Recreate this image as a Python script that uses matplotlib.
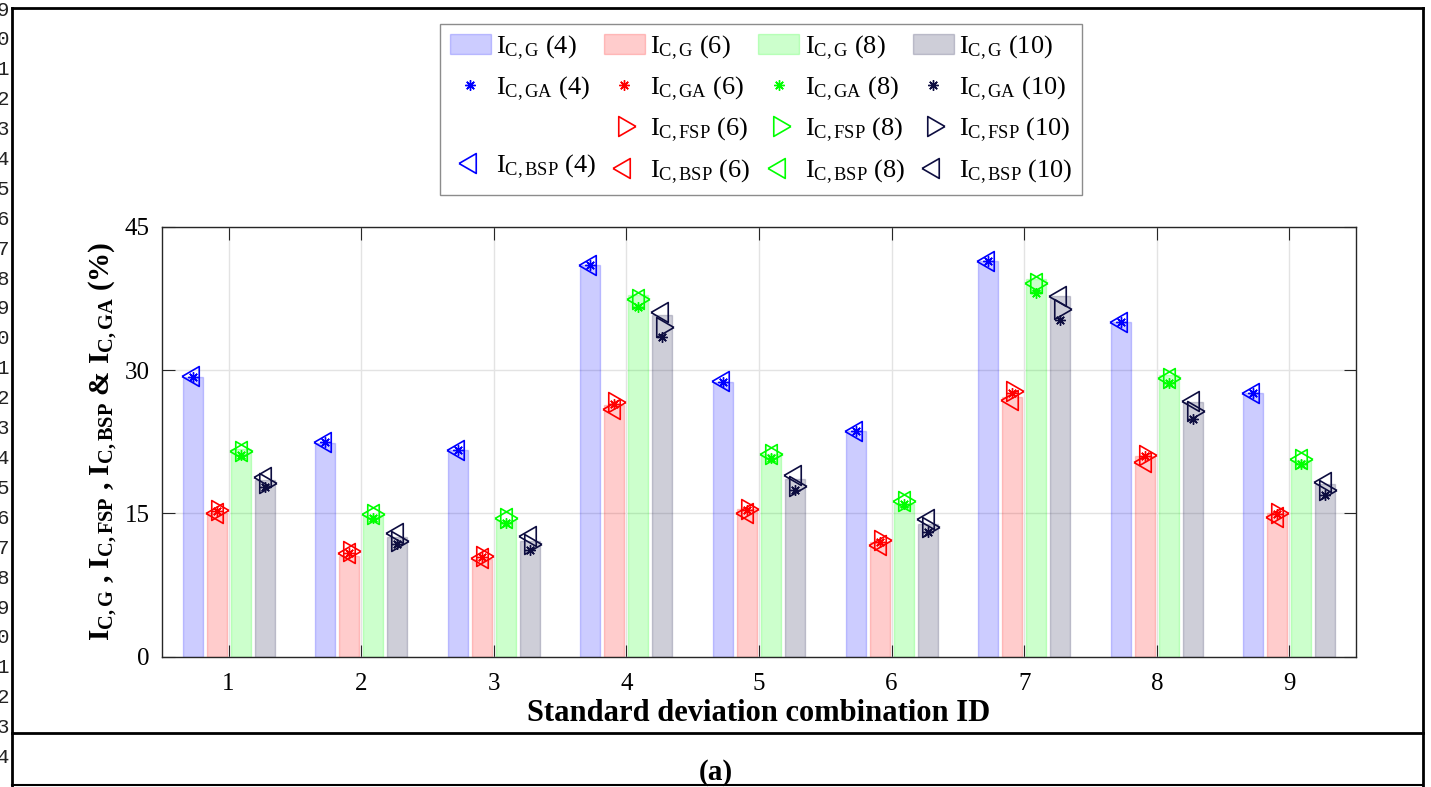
import numpy as np
import matplotlib
matplotlib.use("Agg")
import matplotlib.pyplot as plt
from matplotlib.lines import Line2D

plt.rcParams['font.family'] = ['Liberation Serif', 'DejaVu Serif']
plt.rcParams['mathtext.fontset'] = 'custom'
plt.rcParams['mathtext.rm'] = 'Liberation Serif'
plt.rcParams['mathtext.it'] = 'Liberation Serif:italic'
plt.rcParams['mathtext.bf'] = 'Liberation Serif:bold'

# data
ids = [1, 2, 3, 4, 5, 6, 7, 8, 9]
sizes = ['4', '6', '8', '10']

g4 = [29.3, 22.4, 21.6, 41.0, 28.8, 23.6, 41.4, 35.0, 27.6]
g6 = [15.0, 10.5, 10.2, 26.3, 15.5, 12.0, 27.2, 21.0, 15.0]
g8 = [21.7, 14.8, 14.3, 37.9, 21.2, 16.0, 39.5, 29.5, 20.6]
g10 = [18.5, 12.5, 12.1, 35.8, 18.6, 13.9, 37.8, 26.7, 18.1]

ga4 = [29.3, 22.5, 21.6, 41.0, 28.8, 23.6, 41.4, 35.0, 27.6]
ga6 = [15.2, 10.9, 10.4, 26.5, 15.3, 12.0, 27.6, 21.0, 14.9]
ga8 = [21.1, 14.5, 14.0, 36.6, 20.8, 16.0, 38.1, 28.6, 20.2]
ga10 = [17.8, 11.8, 11.2, 33.5, 17.4, 13.1, 35.2, 24.9, 16.9]

fsp6 = [15.4, 11.1, 10.5, 26.7, 15.5, 12.2, 27.8, 21.1, 15.0]
fsp8 = [21.5, 14.9, 14.5, 37.5, 21.2, 16.3, 39.1, 29.2, 20.7]
fsp10 = [18.2, 12.1, 11.8, 34.5, 17.9, 13.6, 36.4, 25.7, 17.4]

bsp4 = [29.4, 22.5, 21.6, 41.0, 28.9, 23.6, 41.4, 35.0, 27.6]
bsp6 = [15.0, 10.9, 10.3, 25.9, 15.0, 11.7, 26.9, 20.4, 14.6]
bsp8 = [21.5, 14.9, 14.5, 37.5, 21.2, 16.3, 39.1, 29.2, 20.7]
bsp10 = [18.8, 12.9, 12.6, 36.1, 19.0, 14.4, 37.8, 26.8, 18.3]

colors = [(0, 0, 1), (1, 0, 0), (0, 1, 0), (0.05, 0.05, 0.25)]

G = [g4, g6, g8, g10]
GA = [ga4, ga6, ga8, ga10]
FSP = [None, fsp6, fsp8, fsp10]
BSP = [bsp4, bsp6, bsp8, bsp10]

# equilateral triangles centred on their centroid, like MATLAB's '<' and '>'
tri_left = [(-0.577, 0), (0.289, 0.5), (0.289, -0.5), (-0.577, 0)]
tri_right = [(0.577, 0), (-0.289, 0.5), (-0.289, -0.5), (0.577, 0)]

fig = plt.figure(figsize=(14.31, 7.87), dpi=100)
ax = fig.add_axes([0.1134, 0.1657, 0.834, 0.546])

x = np.array(ids, dtype=float)
step = 0.181
width = 0.15
offsets = [-1.5, -0.5, 0.5, 1.5]

bar_h, ga_h, fsp_h, bsp_h = [], [], [], []
for k in range(4):
    xs = x + offsets[k] * step
    c = colors[k]
    b = ax.bar(xs, G[k], width, color=(*c, 0.2), edgecolor=(*c, 0.2),
               linewidth=1, zorder=2)
    bar_h.append(b)
    l, = ax.plot(xs, GA[k], ls='none', marker=(8, 2, 0), ms=7.5, mew=1,
                 color=c, zorder=4)
    ga_h.append(l)
    if FSP[k] is not None:
        l, = ax.plot(xs, FSP[k], ls='none', marker=tri_right, ms=16.5, mew=1.2,
                     mfc='none', mec=c, zorder=3)
        fsp_h.append(l)
    else:
        fsp_h.append(None)
    l, = ax.plot(xs, BSP[k], ls='none', marker=tri_left, ms=16.5, mew=1.2,
                 mfc='none', mec=c, zorder=3)
    bsp_h.append(l)

ax.set_xlim(0.5, 9.5)
ax.set_ylim(0, 45)
ax.set_xticks(ids)
ax.set_yticks([0, 15, 30, 45])
ax.tick_params(direction='in', length=9, width=0.8, colors='#262626',
               labelsize=18, top=True, right=True, labelcolor='black')
ax.tick_params(axis='x', pad=12)
ax.tick_params(axis='y', pad=9)
ax.grid(True, color='#e3e3e3', lw=1, zorder=0)
ax.set_axisbelow(True)
for s in ax.spines.values():
    s.set_color('#262626')
    s.set_linewidth(1)

ax.set_xlabel('Standard deviation combination ID', fontsize=22,
              fontweight='bold', labelpad=3)
ax.set_ylabel(r'$\mathbf{I}_\mathbf{C,G}$ , $\mathbf{I}_\mathbf{C,FSP}$ , '
              r'$\mathbf{I}_\mathbf{C,BSP}$ & $\mathbf{I}_\mathbf{C,GA}$ (%)',
              fontsize=21, fontweight='bold', labelpad=4)

# legend laid out row by row (matplotlib fills columns)
blank = Line2D([], [], ls='none')
handles, labels = [], []
for k in range(4):
    handles += [bar_h[k], ga_h[k], fsp_h[k] if fsp_h[k] is not None else blank, bsp_h[k]]
    labels += [r'I$_{\rm C,G}$ (' + sizes[k] + ')',
               r'I$_{\rm C,GA}$ (' + sizes[k] + ')',
               (r'I$_{\rm C,FSP}$ (' + sizes[k] + ')') if fsp_h[k] is not None else '',
               r'I$_{\rm C,BSP}$ (' + sizes[k] + ')']
leg = fig.legend(handles, labels, ncol=4, loc='upper center',
                 bbox_to_anchor=(0.5318, 0.9695), fontsize=19,
                 fancybox=False, edgecolor='#8c8c8c', framealpha=1,
                 handlelength=1.55, handleheight=0.8, handletextpad=0.2,
                 columnspacing=0.3, labelspacing=0.48, borderpad=0.35,
                 borderaxespad=0)
leg.get_frame().set_linewidth(1)

# outer page frame
def hline(y, x0, x1, lw):
    fig.add_artist(Line2D([x0, x1], [y, y], color='black', lw=lw,
                          transform=fig.transFigure))

def vline(xv, y0, y1, lw):
    fig.add_artist(Line2D([xv, xv], [y0, y1], color='black', lw=lw,
                          transform=fig.transFigure))

hline(1 - 8 / 787, 12 / 1431, 1423 / 1431, 2)
hline(1 - 733 / 787, 12 / 1431, 1423 / 1431, 2)
hline(1 - 785 / 787, 12 / 1431, 1423 / 1431, 1.5)
vline(12 / 1431, 0, 1 - 8 / 787, 2)
vline(1423 / 1431, 0, 1 - 8 / 787, 2)

fig.text(0.5, 1 - 773 / 787, '(a)', fontsize=21, fontweight='bold',
         ha='center', va='center')

# clipped line numbers of the source page at the left edge
for i in range(26):
    fig.text(3 / 1431, 1 - (10 + 29.9 * i) / 787, str((9 + i) % 10), fontsize=15,
             family='Liberation Mono', color='#222222', ha='center', va='center')

fig.savefig('out.png', dpi=100)
